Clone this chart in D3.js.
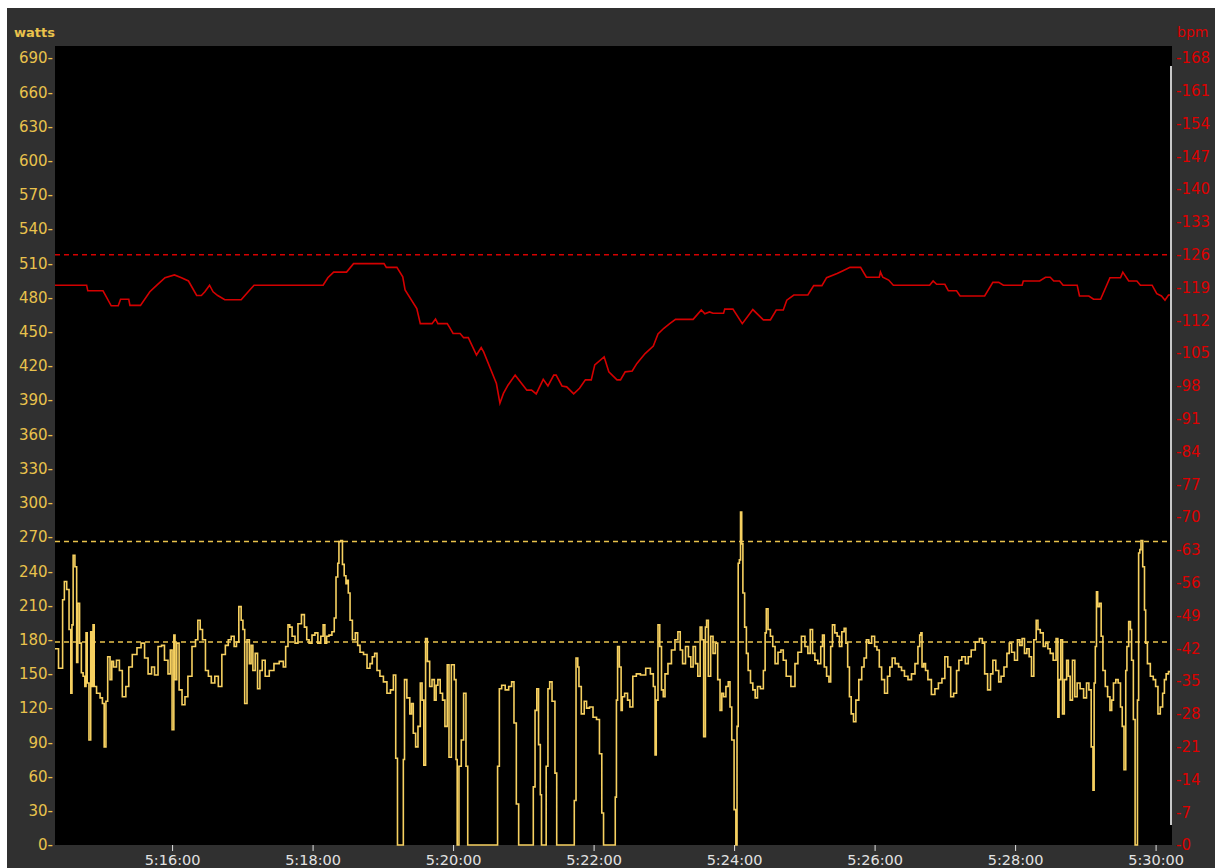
<!DOCTYPE html>
<html>
<head>
<meta charset="utf-8">
<script src="https://cdn.jsdelivr.net/npm/d3@7"></script>
<style>
  html, body { margin: 0; padding: 0; background: #ffffff; }
  svg { display: block; }
  text { font-family: "DejaVu Sans", Verdana, sans-serif; }
</style>
</head>
<body>
<svg id="chart" width="1215" height="868"></svg>
<script>
// Ride segment starting at 5:14:20 (clock time), 1-second logging
const startClock = [5, 14, 20];
const durationSec = 954;

// Heart rate: [seconds since start, bpm]
const heartRate = [
  [0,119.5],[27,119.5],[28,118.3],[41,118.3],[48,115.1],[54,115.1],[56,116.5],[63,116.5],[64,115.2],[73,115.2],
  [81,118.1],[87,119.5],[94,121.1],[102,121.7],[108,121.1],[114,120.4],[121,117.3],[125,117.3],[128,118.1],[132,119.5],
  [135,118.1],[139,117.3],[145,116.4],[159,116.4],[165,118.1],[170,119.5],[229,119.5],[233,121.1],[238,122.3],[249,122.3],
  [255,124.1],[281,124.1],[283,123.3],[292,123.3],[297,121.3],[299,118.5],[309,114.5],[312,111.3],[322,111.3],[325,112.3],
  [327,111.3],[335,111.3],[337,110.5],[340,109.2],[346,109.2],[349,108.3],[353,108.3],[360,104.6],[364,106.2],[366,105.3],
  [377,98.5],[380,94.3],[383,96.4],[387,98.2],[393,100.3],[403,97.1],[407,97.1],[411,96.3],[417,99.4],[421,98.0],
  [426,100.3],[428,100.3],[433,98.0],[437,97.8],[443,96.3],[448,97.5],[453,99.3],[458,99.3],[461,102.5],[469,104.2],
  [473,101.0],[480,99.3],[483,99.3],[487,101.0],[493,101.2],[497,102.8],[504,104.9],[511,106.5],[515,109.1],[520,110.3],
  [525,111.3],[530,112.2],[545,112.2],[552,114.2],[555,113.4],[559,113.8],[562,113.5],[571,113.5],[572,114.4],[579,114.4],
  [587,111.3],[596,114.3],[605,112.1],[611,112.1],[616,114.2],[622,114.2],[625,116.3],[631,117.4],[643,117.4],[648,119.4],
  [655,119.4],[659,121.1],[668,122.0],[673,122.6],[679,123.3],[688,123.3],[693,121.2],[704,121.2],[705,122.3],[707,121.2],
  [712,120.6],[716,119.5],[747,119.5],[750,120.4],[753,119.7],[760,119.7],[763,118.3],[770,118.3],[773,117.2],[794,117.2],
  [801,120.1],[806,120.1],[810,119.5],[826,119.5],[827,120.4],[841,120.4],[846,121.2],[850,121.2],[853,120.4],[858,120.4],
  [861,119.5],[873,119.5],[875,117.2],[883,117.2],[887,116.5],[893,116.5],[901,121.1],[910,121.1],[912,122.3],[917,120.4],
  [924,120.4],[927,119.5],[937,119.5],[941,117.7],[945,117.2],[948,116.3],[951,117.4],[954,117.4]
];

// Power: [seconds since start, watts]
const power = [
  [0,172],[6,155],[7,215],[9,231],[11,224],[13,189],[14,133],[15,193],[16,254],[18,244],
  [19,160],[20,212],[22,177],[23,151],[25,148],[26,139],[27,186],[28,142],[30,92],[31,187],
  [32,139],[33,193],[34,139],[37,133],[40,129],[41,124],[43,86],[44,126],[46,165],[48,145],
  [49,161],[51,156],[54,162],[56,153],[59,130],[62,139],[64,156],[68,167],[72,173],[75,177],
  [78,164],[81,150],[84,156],[86,149],[90,174],[92,175],[95,162],[98,150],[99,171],[101,101],
  [102,184],[103,145],[105,177],[107,136],[110,123],[112,130],[115,148],[119,174],[121,180],[123,197],
  [125,189],[127,180],[130,153],[132,148],[135,142],[138,148],[141,139],[144,167],[147,175],[149,180],
  [152,183],[154,174],[156,178],[158,209],[160,197],[161,189],[163,124],[165,180],[167,159],[168,175],
  [170,153],[172,168],[174,137],[176,153],[178,162],[181,148],[185,153],[189,159],[194,161],[196,156],
  [198,174],[200,193],[201,191],[204,183],[206,177],[209,194],[212,202],[214,191],[216,180],[218,177],
  [221,184],[223,186],[226,177],[228,183],[230,193],[231,177],[233,183],[235,184],[238,187],[239,199],
  [241,235],[242,247],[243,266],[245,267],[246,246],[248,236],[249,229],[250,232],[251,221],[253,197],
  [255,180],[258,186],[259,175],[262,169],[265,167],[268,155],[270,159],[272,165],[274,168],[276,153],
  [279,148],[282,143],[285,133],[288,136],[290,149],[292,76],[293,0],[297,0],[298,75],[299,145],
  [302,129],[304,115],[305,124],[307,98],[309,86],[311,104],[313,142],[314,127],[316,70],[317,181],
  [319,161],[321,139],[323,145],[325,127],[326,140],[328,145],[330,133],[332,127],[334,104],[336,158],
  [337,77],[340,158],[342,145],[343,75],[344,0],[346,69],[348,92],[350,133],[352,69],[353,0],
  [377,0],[379,69],[380,137],[383,140],[386,136],[389,139],[391,143],[393,107],[395,36],[397,0],
  [408,0],[409,51],[411,118],[412,137],[414,88],[415,44],[416,0],[419,0],[420,69],[422,137],
  [423,143],[426,126],[428,63],[429,0],[443,0],[444,39],[446,164],[447,156],[448,139],[451,115],
  [453,126],[455,120],[458,121],[461,112],[464,110],[466,80],[468,28],[469,0],[478,0],[479,42],
  [480,127],[481,174],[483,156],[484,118],[485,130],[488,133],[490,127],[492,121],[495,148],[498,150],
  [502,149],[507,155],[510,150],[512,139],[513,79],[514,127],[516,193],[517,174],[519,136],[520,130],
  [522,150],[525,159],[528,171],[531,180],[533,187],[535,171],[537,159],[540,174],[542,165],[544,156],
  [546,174],[548,159],[550,148],[552,191],[553,180],[555,95],[556,191],[557,197],[559,148],[561,183],
  [563,168],[565,177],[567,145],[569,118],[570,133],[572,130],[574,139],[576,143],[577,121],[579,92],
  [581,31],[582,0],[583,104],[584,247],[585,250],[586,292],[587,264],[588,221],[590,191],[591,168],
  [593,153],[595,142],[597,136],[599,129],[601,139],[604,137],[606,153],[607,186],[608,207],[610,189],
  [612,183],[614,174],[616,159],[619,169],[621,171],[623,162],[626,148],[631,139],[633,159],[636,169],
  [639,183],[642,174],[644,168],[646,189],[648,168],[650,162],[653,159],[655,174],[656,184],[658,156],
  [660,148],[662,143],[663,174],[665,193],[667,186],[669,183],[671,174],[673,187],[675,190],[676,177],
  [678,156],[679,130],[681,115],[683,108],[685,127],[688,145],[690,156],[692,164],[694,180],[696,177],
  [699,183],[701,174],[703,171],[705,156],[707,145],[710,133],[712,148],[714,156],[716,164],[719,159],
  [722,156],[724,153],[727,148],[730,145],[733,150],[736,159],[738,174],[739,184],[740,186],[741,156],
  [743,159],[744,153],[747,145],[750,132],[753,137],[756,142],[759,146],[761,165],[764,156],[766,130],
  [769,133],[771,153],[773,162],[776,165],[779,159],[781,165],[784,171],[788,178],[791,181],[793,177],
  [795,150],[798,136],[800,150],[802,162],[805,153],[807,143],[809,148],[812,156],[814,168],[816,177],
  [818,169],[821,162],[823,180],[825,175],[827,181],[829,168],[831,172],[833,165],[835,148],[837,180],
  [839,197],[840,189],[843,186],[845,174],[847,177],[849,172],[851,168],[854,162],[856,181],[857,112],
  [858,145],[860,180],[861,115],[863,145],[865,162],[866,148],[868,127],[870,162],[872,130],[874,142],
  [877,137],[880,129],[882,142],[884,136],[886,86],[887,48],[888,142],[889,174],[890,222],[891,209],
  [893,212],[894,183],[896,153],[898,139],[900,130],[902,118],[903,127],[905,142],[907,145],[909,142],
  [911,121],[912,104],[914,66],[915,153],[916,174],[918,196],[919,189],[920,162],[922,110],[923,0],
  [924,0],[925,127],[926,256],[927,259],[928,267],[930,244],[931,206],[932,177],[934,159],[937,148],
  [939,145],[941,139],[943,115],[945,121],[947,133],[948,145],[950,150],[952,152],[954,155]
];

// Reference levels
const hrLevels = [126];
const powerLevels = [178, 266];

// Axis tick values
const wattTicks = [0,30,60,90,120,150,180,210,240,270,300,330,360,390,420,450,480,510,540,570,600,630,660,690];
const bpmTicks = [0,7,14,21,28,35,42,49,56,63,70,77,84,91,98,105,112,119,126,133,140,147,154,161,168];

const colors = {
  panel: "#303030",
  plot: "#000000",
  watts: "#e9c24c",
  wattsLine: "#f6d060",
  bpm: "#dd0000",
  bpmLine: "#d40000",
  time: "#e2e2e2",
  marker: "#c8c8c8"
};

const plot = { left: 55, top: 46, right: 1172, bottom: 845 };

const svg = d3.select("#chart");

// Frame
svg.append("rect").attr("x", 7).attr("y", 8).attr("width", 1208).attr("height", 860).attr("fill", colors.panel);
svg.append("rect").attr("x", plot.left).attr("y", plot.top)
  .attr("width", plot.right - plot.left).attr("height", plot.bottom - plot.top)
  .attr("fill", colors.plot);

// Scales
const t0 = Date.UTC(2000, 0, 1, startClock[0], startClock[1], startClock[2]);
const toDate = s => new Date(t0 + s * 1000);
const x = d3.scaleUtc().domain([toDate(0), toDate(durationSec)]).range([plot.left, plot.right]);
const yW = d3.scaleLinear().domain([0, 690]).range([plot.bottom, 58]);
const yB = d3.scaleLinear().domain([0, 168]).range([plot.bottom, 58]);

// Left axis (watts)
const leftAxis = svg.append("g").attr("transform", `translate(${plot.left - 2},0)`)
  .call(d3.axisLeft(yW).tickValues(wattTicks).tickSize(0).tickPadding(0).tickFormat(d => d + "-"));
leftAxis.select(".domain").remove();
leftAxis.selectAll("text").attr("fill", colors.watts).style("font-size", "15px");

// Right axis (bpm)
const rightAxis = svg.append("g").attr("transform", `translate(${plot.right + 4},0)`)
  .call(d3.axisRight(yB).tickValues(bpmTicks).tickSize(0).tickPadding(0).tickFormat(d => "-" + d));
rightAxis.select(".domain").remove();
rightAxis.selectAll("text").attr("fill", colors.bpm).style("font-size", "15px");

// Bottom axis (clock time)
const bottomAxis = svg.append("g").attr("transform", `translate(0,${plot.bottom})`)
  .call(d3.axisBottom(x).ticks(d3.utcMinute.every(2)).tickSize(6).tickPadding(4)
    .tickFormat(d3.utcFormat("%-H:%M:%S")));
bottomAxis.select(".domain").remove();
bottomAxis.selectAll("line").attr("stroke", colors.time).attr("stroke-width", 1);
bottomAxis.selectAll("text").attr("fill", colors.time).style("font-size", "14.5px");

// Unit labels
svg.append("text").attr("x", 14).attr("y", 37).attr("fill", colors.watts)
  .style("font-size", "13px").style("font-weight", "bold").text("watts");
svg.append("text").attr("x", 1177).attr("y", 37).attr("fill", colors.bpm)
  .style("font-size", "14px").text("bpm");

// Reference lines
const refs = svg.append("g").attr("fill", "none").attr("stroke-width", 1.5).attr("stroke-dasharray", "5,4");
refs.selectAll("line.hr").data(hrLevels).join("line").attr("class", "hr")
  .attr("x1", plot.left).attr("x2", plot.right - 4)
  .attr("y1", d => yB(d)).attr("y2", d => yB(d)).attr("stroke", colors.bpmLine);
refs.selectAll("line.pw").data(powerLevels).join("line").attr("class", "pw")
  .attr("x1", plot.left).attr("x2", plot.right - 4)
  .attr("y1", d => yW(d)).attr("y2", d => yW(d)).attr("stroke", colors.watts);

// Series
svg.append("clipPath").attr("id", "plot-clip").append("rect")
  .attr("x", plot.left).attr("y", plot.top)
  .attr("width", plot.right - plot.left).attr("height", plot.bottom - plot.top + 1);

const hrLine = d3.line().x(d => x(toDate(d[0]))).y(d => yB(d[1]));
const pwLine = d3.line().curve(d3.curveStep).x(d => x(toDate(d[0]))).y(d => yW(d[1]));

const series = svg.append("g").attr("clip-path", "url(#plot-clip)");
series.append("path").datum(heartRate).attr("d", hrLine)
  .attr("fill", "none").attr("stroke", colors.bpmLine).attr("stroke-width", 1.6).attr("stroke-linejoin", "miter");
series.append("path").datum(power).attr("d", pwLine)
  .attr("fill", "none").attr("stroke", colors.wattsLine).attr("stroke-width", 1.6).attr("stroke-linejoin", "miter");

// Position marker at the right edge of the trace
svg.append("rect").attr("x", plot.right - 2).attr("y", 66).attr("width", 2).attr("height", 759)
  .attr("fill", colors.marker);
</script>
</body>
</html>
